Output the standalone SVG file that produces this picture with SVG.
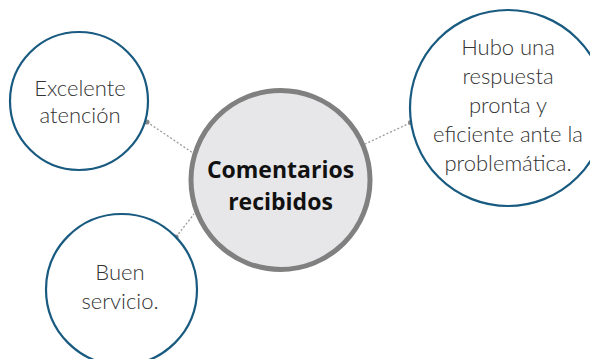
<svg xmlns="http://www.w3.org/2000/svg" width="590" height="359" viewBox="0 0 590 359">
<style>
.leaf{fill:#ffffff;stroke:#185a80;stroke-width:2.2}
.hub{fill:#e7e7e9;stroke:#808080;stroke-width:5}
.lt{font-family:Lato,"Open Sans",sans-serif;font-size:22px;font-weight:300;fill:#333333;text-anchor:middle}
.ht{font-family:"Open Sans","Noto Sans",sans-serif;font-size:23px;font-weight:bold;fill:#111111;text-anchor:middle}
.con{stroke:#9a9a9a;stroke-width:1.3;stroke-dasharray:2 2;fill:none}
.dot{fill:#8c8c8c}
</style>
<rect width="590" height="359" fill="#ffffff"/>
<g id="connectors">
<line class="con" x1="147" y1="122" x2="193" y2="153"/>
<line class="con" x1="410" y1="123" x2="365" y2="144"/>
<line class="con" x1="176" y1="237" x2="194" y2="214"/>
<circle class="dot" cx="147" cy="122" r="2.6"/>
<circle class="dot" cx="410.5" cy="122.5" r="2.6"/>
<circle class="dot" cx="176" cy="237" r="2.6"/>
</g>
<g id="hub">
<circle class="hub" cx="280.5" cy="180" r="89.5"/>
<text class="ht" x="280.5" y="178">Comentarios</text>
<text class="ht" x="280.5" y="210">recibidos</text>
</g>
<g id="n1">
<circle class="leaf" cx="79" cy="101" r="69"/>
<text class="lt" x="80" y="96">Excelente</text>
<text class="lt" x="80" y="123">atención</text>
</g>
<g id="n2">
<circle class="leaf" cx="121.5" cy="289.5" r="75.5"/>
<text class="lt" x="120" y="280">Buen</text>
<text class="lt" x="120" y="309">servicio.</text>
</g>
<g id="n3">
<circle class="leaf" cx="508" cy="108" r="98"/>
<text class="lt" x="508" y="55">Hubo una</text>
<text class="lt" x="508" y="84">respuesta</text>
<text class="lt" x="508" y="113">pronta y</text>
<text class="lt" x="508" y="142">eficiente ante la</text>
<text class="lt" x="508" y="171">problemática.</text>
</g>
</svg>
